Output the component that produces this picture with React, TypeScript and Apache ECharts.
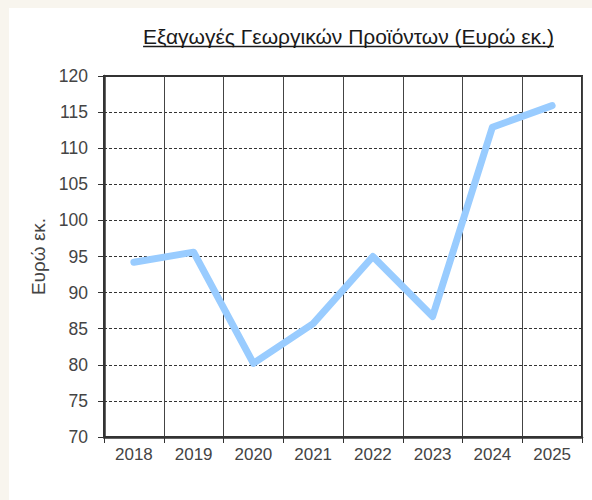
import React, { useEffect, useRef } from "react";
import * as echarts from "echarts";

const years = ["2018", "2019", "2020", "2021", "2022", "2023", "2024", "2025"];
const exportsValues = [94.2, 95.6, 80.2, 85.7, 95.0, 86.7, 112.9, 115.9];
const yMin = 70;
const yMax = 120;
const yStep = 5;
const titleText = "Εξαγωγές Γεωργικών Προϊόντων (Ευρώ εκ.)";
const yAxisName = "Ευρώ εκ.";

const FONT = 'Arial, "Liberation Sans", sans-serif';

export default function App() {
  const ref = useRef<HTMLDivElement>(null);
  useEffect(() => {
    if (!ref.current) return;
    const chart = echarts.init(ref.current, undefined, { renderer: "svg" });
    const titleSize = 21;
    let tw = 417;
    try {
      const ctx = document.createElement("canvas").getContext("2d");
      if (ctx) {
        ctx.font = `${titleSize}px "Liberation Sans"`;
        tw = ctx.measureText(titleText).width;
      }
    } catch (e) {}
    const cx = 348.5;
    chart.setOption({
      animation: false,
      backgroundColor: "transparent",
      grid: {
        left: 104,
        top: 76,
        width: 478,
        height: 361,
        show: true,
        borderColor: "#333",
        borderWidth: 2,
        backgroundColor: "#fff",
      },
      graphic: [
        {
          type: "text",
          x: cx,
          y: 36.5,
          style: {
            text: titleText,
            font: `${titleSize}px ${FONT}`,
            fill: "#1a1a1a",
            textAlign: "center",
            textVerticalAlign: "middle",
          },
        },
        {
          type: "line",
          shape: { x1: cx - tw / 2, y1: 46.5, x2: cx + tw / 2, y2: 46.5 },
          style: { stroke: "#1a1a1a", lineWidth: 1.5 },
        },
      ],
      xAxis: {
        type: "category",
        data: years,
        boundaryGap: true,
        axisLine: { lineStyle: { color: "#333", width: 2.5 } },
        axisTick: { show: true, length: 6, lineStyle: { color: "#333", width: 1 } },
        axisLabel: { color: "#444", fontSize: 17, fontFamily: FONT, margin: 9 },
        splitLine: { show: true, lineStyle: { color: "#444", width: 1, type: "solid" } },
      },
      yAxis: {
        type: "value",
        min: yMin,
        max: yMax,
        interval: yStep,
        name: yAxisName,
        nameLocation: "middle",
        nameRotate: 90,
        nameGap: 56,
        nameTextStyle: { color: "#444", fontSize: 19, fontFamily: FONT },
        axisLine: { show: true, lineStyle: { color: "#333", width: 2.5 } },
        axisTick: { show: true, length: 6, lineStyle: { color: "#333", width: 1 } },
        axisLabel: { color: "#444", fontSize: 17.5, fontFamily: FONT, margin: 16 },
        splitLine: { show: true, lineStyle: { color: "#333", width: 1, type: [3, 2] } },
      },
      series: [
        {
          type: "line",
          data: exportsValues,
          symbol: "none",
          lineStyle: { color: "#99CCFF", width: 7, cap: "round", join: "round" },
        },
      ],
    });
    return () => chart.dispose();
  }, []);
  return (
    <div style={{ position: "fixed", left: 0, top: 0, width: 592, height: 500, background: "#F8F5EE" }}>
      <div style={{ position: "absolute", left: 9, top: 8, right: 0, bottom: 0, background: "#fff" }} />
      <div ref={ref} style={{ position: "absolute", left: 0, top: 0, width: 592, height: 500 }} />
    </div>
  );
}
